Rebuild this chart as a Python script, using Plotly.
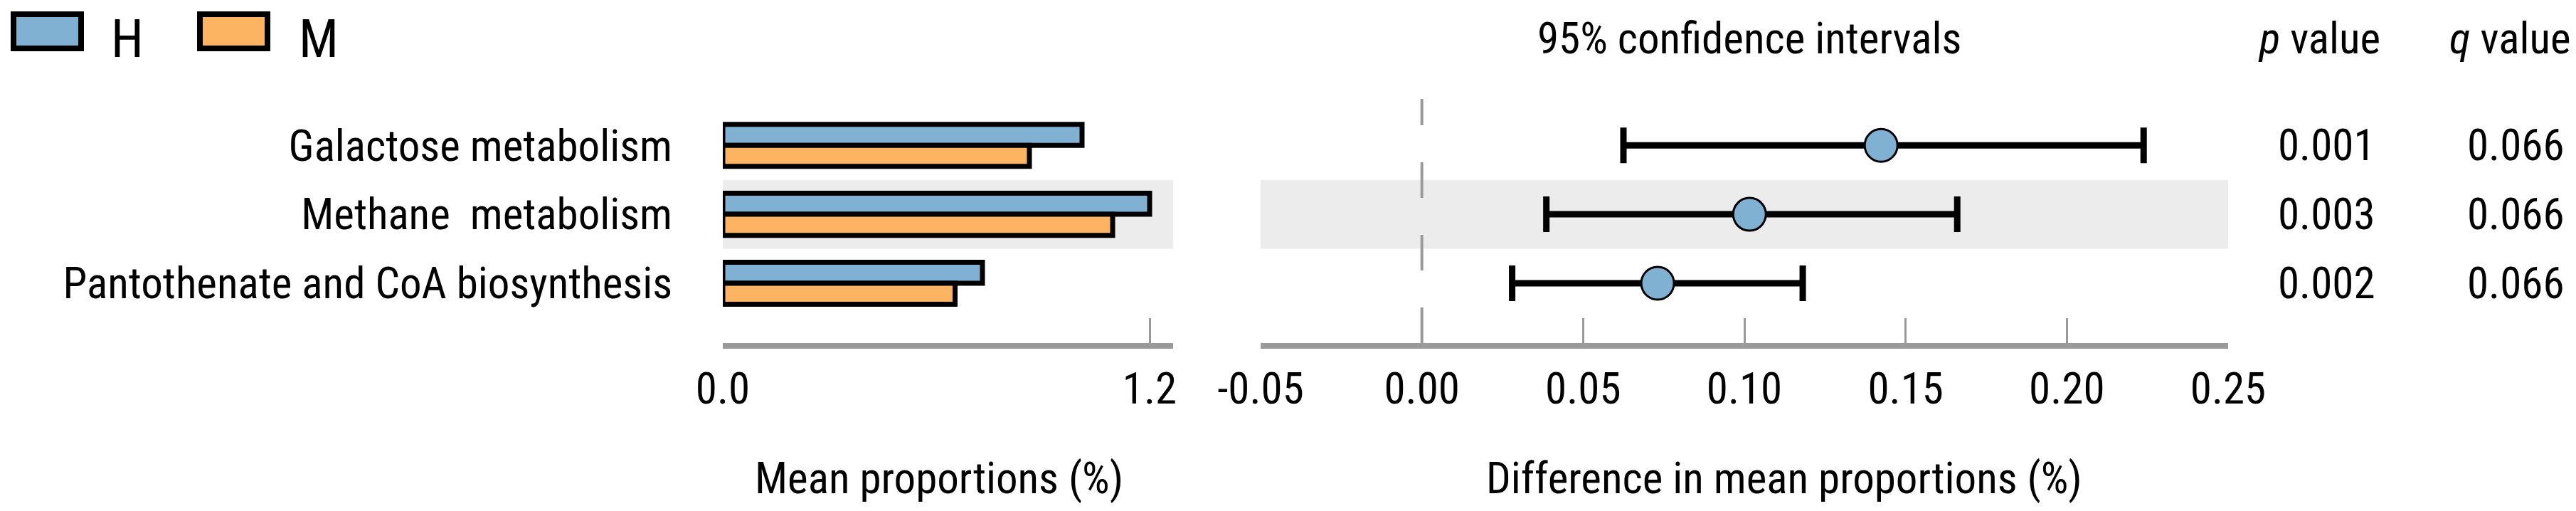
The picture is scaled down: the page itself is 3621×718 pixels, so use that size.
import plotly.graph_objects as go

# data
pathways = ["Galactose metabolism", "Methane\u00a0 metabolism", "Pantothenate and CoA biosynthesis"]
groups = ["H", "M"]
mean_h = [1.01, 1.20, 0.73]
mean_m = [0.862, 1.096, 0.653]
diff = [0.1424, 0.1016, 0.0731]
ci_low = [0.0625, 0.0386, 0.0280]
ci_high = [0.2238, 0.1660, 0.1181]
p_values = ["0.001", "0.003", "0.002"]
q_values = ["0.066", "0.066", "0.066"]
left_ticks = [0.0, 1.2]
left_ticktext = ["0.0", "1.2"]
right_ticks = [-0.05, 0.0, 0.05, 0.10, 0.15, 0.20, 0.25]
right_ticktext = ["-0.05", "0.00", "0.05", "0.10", "0.15", "0.20", "0.25"]

W, H = 3621, 718
FONT = "Roboto Condensed, Liberation Sans, Arial, sans-serif"
BLUE = "#80b1d3"
ORANGE = "#fdb462"
GREY = "#9a9a9a"
FS = 61


def px(x):
    return x / W


def py(y):
    return 1 - y / H


fig = go.Figure()
fig.add_trace(go.Bar(y=pathways, x=mean_h, name=groups[0], orientation="h",
                     marker=dict(color=BLUE, line=dict(color="black", width=7)),
                     xaxis="x", yaxis="y", showlegend=False))
fig.add_trace(go.Bar(y=pathways, x=mean_m, name=groups[1], orientation="h",
                     marker=dict(color=ORANGE, line=dict(color="black", width=7)),
                     xaxis="x", yaxis="y", showlegend=False))

err_plus = [h - d for h, d in zip(ci_high, diff)]
err_minus = [d - l for d, l in zip(diff, ci_low)]
fig.add_trace(go.Scatter(
    y=pathways, x=diff, mode="markers", xaxis="x2", yaxis="y", showlegend=False,
    marker=dict(symbol="circle", size=46, color=BLUE, line=dict(color="black", width=3)),
    error_x=dict(type="data", array=err_plus, arrayminus=err_minus, symmetric=False,
                 color="black", thickness=9, width=25),
))

shapes = []
# alternate row shading
for i, name in enumerate(pathways):
    if i % 2 == 1:
        for xr in ["x domain", "x2 domain"]:
            shapes.append(dict(type="rect", xref=xr, yref="y", x0=0, x1=1,
                               y0=i - 0.5, y1=i + 0.5, fillcolor="#ececec",
                               line=dict(width=0), layer="below"))
# zero reference line
shapes.append(dict(type="line", xref="x2", yref="y domain", x0=0, x1=0, y0=0, y1=1,
                   line=dict(color=GREY, width=4, dash="50px,52px"), layer="below"))


def note(text, x, y, size=FS, yref="paper", xanchor="center"):
    return dict(text=text, xref="paper", yref=yref, x=x, y=y, xanchor=xanchor,
                yanchor="middle", showarrow=False, font=dict(size=size))


# legend boxes
annotations = []
for k, (g, c) in enumerate(zip(groups, [BLUE, ORANGE])):
    x0 = 11 + k * 262
    shapes.append(dict(type="rect", xref="paper", yref="paper",
                       x0=px(x0), x1=px(x0 + 95), y0=py(60), y1=py(12),
                       fillcolor=c, line=dict(color="black", width=8)))
    annotations.append(note(g, px(146 + k * 264), py(46), size=74, xanchor="left"))

annotations.append(note("95% confidence intervals", px(2451), py(46)))
annotations.append(note("<i>p</i> value", px(3252), py(46)))
annotations.append(note("<i>q</i> value", px(3520), py(46)))
for name, pv, qv in zip(pathways, p_values, q_values):
    annotations.append(note(pv, px(3262), name, yref="y"))
    annotations.append(note(qv, px(3528), name, yref="y"))
annotations.append(note("Mean proportions (%)", px(1312), py(664)))
annotations.append(note("Difference in mean proportions (%)", px(2500), py(664)))

axis_common = dict(showline=True, linecolor=GREY, linewidth=8, ticks="inside", ticklen=35,
                   tickwidth=3, tickcolor=GREY, showgrid=False, zeroline=False,
                   automargin=False, tickfont=dict(size=FS), ticklabelstandoff=4)

fig.update_layout(
    width=W, height=H, margin=dict(l=0, r=0, t=0, b=0),
    paper_bgcolor="white", plot_bgcolor="white",
    font=dict(family=FONT, color="black", size=FS),
    barmode="group", bargap=0.39, bargroupgap=0,
    xaxis=dict(domain=[px(1008), px(1641)], range=[0, 1.266], anchor="y",
               tickvals=left_ticks, ticktext=left_ticktext, **axis_common),
    xaxis2=dict(domain=[px(1764), px(3124)], range=[-0.05, 0.25], anchor="y",
                tickvals=right_ticks, ticktext=right_ticktext, **axis_common),
    yaxis=dict(domain=[py(474), py(131)], range=[2.867, -0.673], type="category",
               showline=False, ticks="", showgrid=False, zeroline=False, automargin=False,
               tickfont=dict(size=FS), ticklabelstandoff=70),
    shapes=shapes, annotations=annotations,
)

fig.write_html("out.html")
